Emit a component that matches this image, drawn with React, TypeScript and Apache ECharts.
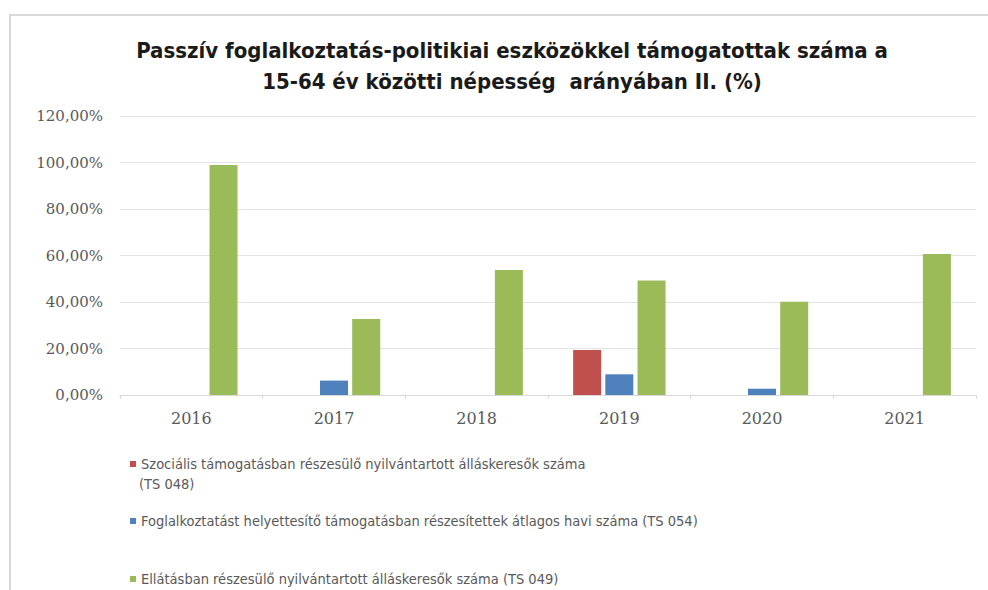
import React, { useEffect, useRef } from "react";
import * as echarts from "echarts";

const categories = ["2016", "2017", "2018", "2019", "2020", "2021"];
const seriesNames = [
  "Szociális támogatásban részesülő nyilvántartott álláskeresők száma",
  "Foglalkoztatást helyettesítő támogatásban részesítettek átlagos havi száma (TS 054)",
  "Ellátásban részesülő nyilvántartott álláskeresők száma (TS 049)",
];
const firstLegendSecondLine = "(TS 048)";
const socialis = [null, null, null, 19.4, null, null];
const foglalkoztatast = [null, 6.2, null, 8.9, 2.7, null];
const ellatas = [98.9, 32.7, 53.8, 49.2, 40.1, 60.6];
const colors = ["#C0504D", "#4F81BD", "#9BBB59"];

const sansFont = "'DejaVu Sans Condensed', 'Open Sans', sans-serif";

export default function App() {
  const ref = useRef<HTMLDivElement>(null);
  useEffect(() => {
    if (!ref.current) return;
    const chart = echarts.init(ref.current, null, { renderer: "svg" });
    const data = [socialis, foglalkoztatast, ellatas];
    const legendTops = [451, 508, 566];
    chart.setOption({
      animation: false,
      backgroundColor: "#ffffff",
      title: {
        text: "Passzív foglalkoztatás-politikiai eszközökkel támogatottak száma a\n15-64 év közötti népesség  arányában II. (%)",
        left: 507,
        textAlign: "center",
        top: 30,
        textStyle: {
          fontFamily: sansFont,
          fontWeight: "bold",
          fontSize: 22,
          lineHeight: 31,
          color: "#1a1a1a",
        },
      },
      graphic: [
        {
          type: "polyline",
          shape: { points: [[10, 600], [10, 15], [990, 15]] },
          style: { stroke: "#d9d9d9", fill: "none", lineWidth: 2 },
        },
        {
          type: "text",
          left: 139,
          top: 476,
          style: {
            text: firstLegendSecondLine,
            fontFamily: sansFont,
            fontSize: 14.5,
            fill: "#595959",
          },
        },
      ],
      legend: seriesNames.map((n, i) => ({
        data: [n],
        left: 128,
        top: legendTops[i] + (i === 0 ? 0 : 0),
        icon: "rect",
        itemWidth: 6,
        itemHeight: 6,
        itemGap: 3,
        padding: 2,
        textStyle: {
          fontFamily: sansFont,
          fontSize: 14.5,
          lineHeight: 22,
          color: "#595959",
        },
      })),
      grid: { left: 120, right: 12, top: 116, bottom: 195 },
      xAxis: {
        type: "category",
        data: categories,
        axisLine: { lineStyle: { color: "#d9d9d9" } },
        axisTick: { show: true, length: 4, lineStyle: { color: "#d9d9d9" } },
        axisLabel: {
          fontFamily: "'DejaVu Serif', serif",
          fontSize: 16,
          color: "#595959",
          margin: 15,
        },
      },
      yAxis: {
        type: "value",
        min: 0,
        max: 120,
        interval: 20,
        axisLine: { show: false },
        axisTick: { show: false },
        splitLine: { lineStyle: { color: "#e3e3e3" } },
        axisLabel: {
          fontFamily: "'DejaVu Serif', serif",
          fontSize: 15,
          color: "#595959",
          margin: 17,
          formatter: (v: number) => v.toFixed(2).replace(".", ",") + "%",
        },
      },
      series: seriesNames.map((n, i) => ({
        name: n,
        type: "bar",
        data: data[i],
        barWidth: 28,
        barGap: "15%",
        itemStyle: { color: colors[i] },
      })),
    });
    return () => chart.dispose();
  }, []);
  return <div ref={ref} style={{ width: 988, height: 590, position: "absolute", left: 0, top: 0 }} />;
}
